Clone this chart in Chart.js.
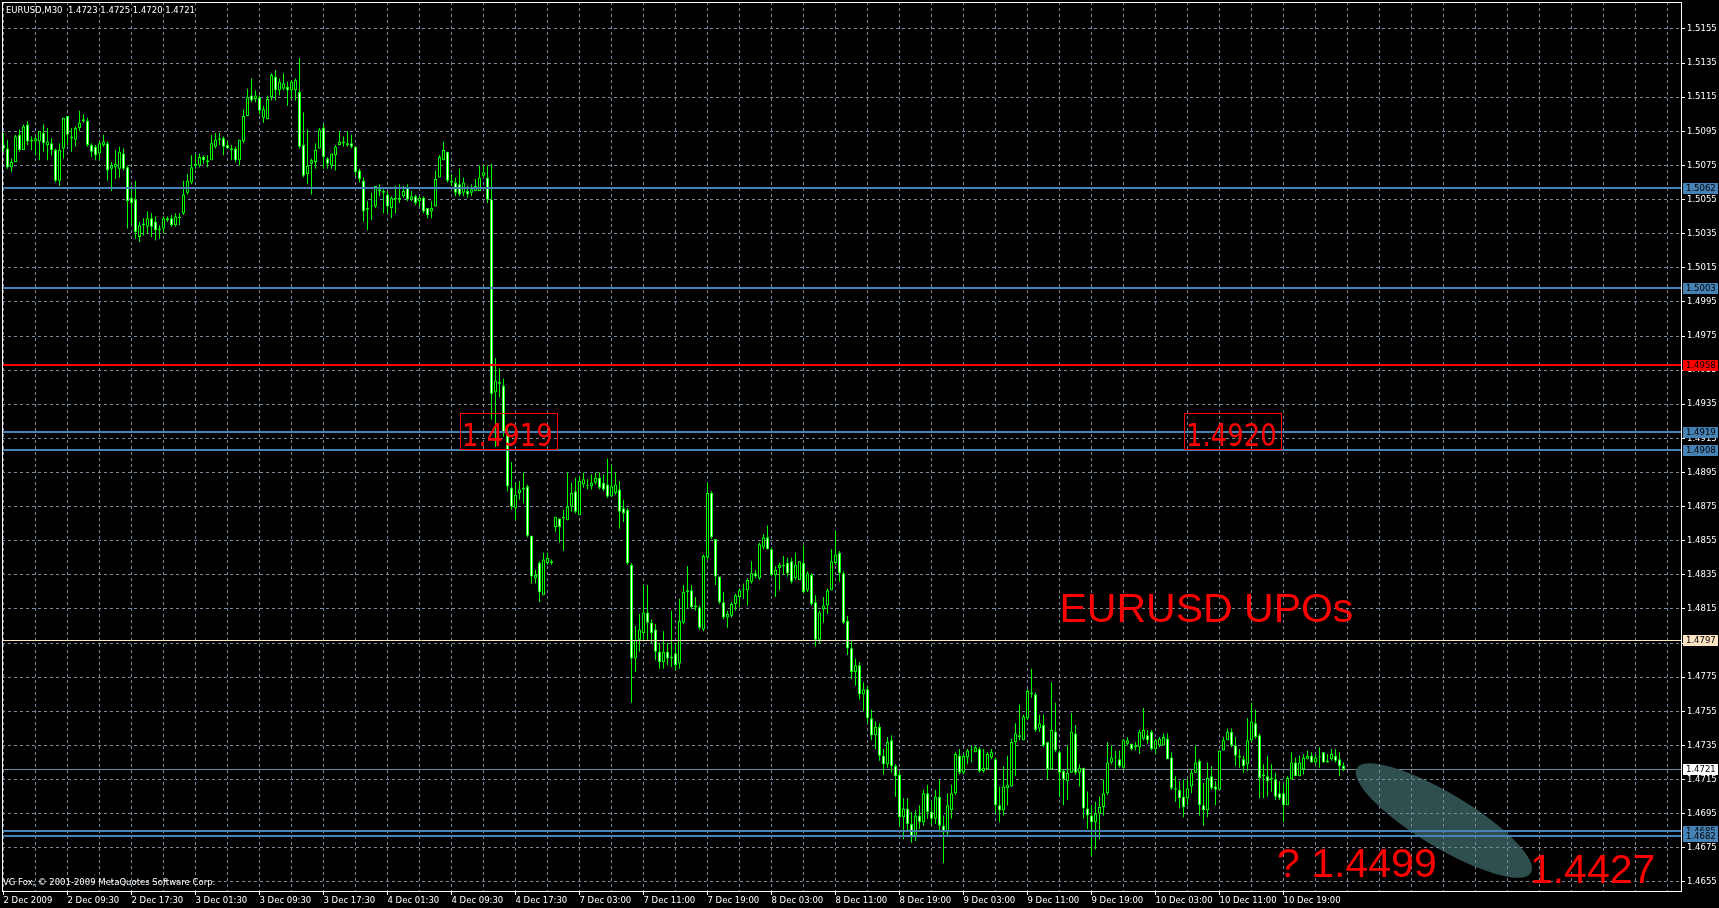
<!DOCTYPE html>
<html>
<head>
<meta charset="utf-8">
<title>EURUSD,M30</title>
<script src="https://cdn.jsdelivr.net/npm/chart.js@4.4.1/dist/chart.umd.min.js"></script>
<style>
  html, body { margin: 0; padding: 0; background: #000; overflow: hidden; }
  canvas { display: block; }
</style>
</head>
<body>
<canvas id="chart" width="1719" height="908"></canvas>
<script>
// EURUSD M30, one value per bar (bar 0 = 2 Dec 2009 01:30)
var opens = [
  1.5087,1.5085,1.5074,1.5077,1.5093,1.5084,1.5099,1.5089,1.5089,1.5089,
  1.5094,1.5087,1.5088,1.5084,1.5066,1.5085,1.5104,1.5092,1.5090,1.5097,
  1.5101,1.5101,1.5087,1.5086,1.5082,1.5087,1.5088,1.5073,1.5074,1.5073,
  1.5082,1.5074,1.5056,1.5055,1.5033,1.5040,1.5039,1.5044,1.5042,1.5037,
  1.5038,1.5044,1.5044,1.5040,1.5045,1.5047,1.5059,1.5065,1.5075,1.5075,
  1.5080,1.5077,1.5078,1.5086,1.5091,1.5091,1.5087,1.5085,1.5085,1.5078,
  1.5089,1.5104,1.5116,1.5114,1.5115,1.5103,1.5102,1.5115,1.5127,1.5119,
  1.5120,1.5121,1.5119,1.5119,1.5118,1.5087,1.5070,1.5076,1.5077,1.5085,
  1.5097,1.5079,1.5075,1.5081,1.5087,1.5088,1.5088,1.5088,1.5086,1.5072,
  1.5066,1.5049,1.5051,1.5051,1.5061,1.5059,1.5058,1.5050,1.5056,1.5055,
  1.5057,1.5062,1.5055,1.5057,1.5054,1.5056,1.5050,1.5048,1.5051,1.5068,
  1.5078,1.5083,1.5066,1.5065,1.5064,1.5059,1.5060,1.5059,1.5060,1.5060,
  1.5069,1.5068,1.5055,1.4942,1.4948,1.4946,1.4918,1.4886,1.4874,1.4883,
  1.4885,1.4887,1.4858,1.4833,1.4842,1.4823,1.4842,1.4843,1.4863,1.4868,
  1.4868,1.4867,1.4875,1.4884,1.4870,1.4888,1.4887,1.4887,1.4889,1.4892,
  1.4889,1.4888,1.4881,1.4883,1.4885,1.4874,1.4873,1.4841,1.4786,1.4797,
  1.4801,1.4813,1.4807,1.4803,1.4790,1.4784,1.4790,1.4786,1.4789,1.4783,
  1.4807,1.4825,1.4826,1.4816,1.4816,1.4803,1.4845,1.4883,1.4856,1.4834,
  1.4819,1.4810,1.4811,1.4818,1.4822,1.4826,1.4826,1.4831,1.4836,1.4833,
  1.4851,1.4857,1.4850,1.4835,1.4839,1.4841,1.4842,1.4843,1.4833,1.4832,
  1.4842,1.4826,1.4835,1.4819,1.4797,1.4815,1.4817,1.4826,1.4842,1.4848,
  1.4836,1.4808,1.4792,1.4778,1.4782,1.4765,1.4768,1.4751,1.4741,1.4746,
  1.4729,1.4724,1.4738,1.4723,1.4718,1.4693,1.4698,1.4689,1.4681,1.4694,
  1.4690,1.4707,1.4696,1.4692,1.4705,1.4688,1.4684,1.4697,1.4707,1.4729,
  1.4719,1.4728,1.4732,1.4731,1.4733,1.4720,1.4721,1.4728,1.4727,1.4700,
  1.4697,1.4710,1.4711,1.4737,1.4741,1.4738,1.4751,1.4766,1.4765,1.4745,
  1.4747,1.4737,1.4721,1.4743,1.4731,1.4720,1.4714,1.4719,1.4742,1.4719,
  1.4722,1.4698,1.4694,1.4690,1.4695,1.4699,1.4707,1.4725,1.4728,1.4727,
  1.4722,1.4736,1.4736,1.4735,1.4734,1.4739,1.4741,1.4743,1.4733,1.4735,
  1.4735,1.4739,1.4728,1.4710,1.4709,1.4705,1.4704,1.4711,1.4719,1.4726,
  1.4700,1.4697,1.4717,1.4711,1.4709,1.4732,1.4738,1.4743,1.4735,1.4729,
  1.4727,1.4724,1.4738,1.4748,1.4741,1.4717,1.4717,1.4715,1.4715,1.4707,
  1.4707,1.4700,1.4715,1.4725,1.4717,1.4721,1.4727,1.4729,1.4725,1.4728,
  1.4731,1.4725,1.4727,1.4729,1.4727,1.4723
]
var highs = [
  1.5094,1.5090,1.5079,1.5093,1.5096,1.5099,1.5101,1.5092,1.5092,1.5095,
  1.5099,1.5097,1.5091,1.5085,1.5088,1.5103,1.5104,1.5097,1.5098,1.5107,
  1.5105,1.5103,1.5088,1.5087,1.5089,1.5093,1.5089,1.5077,1.5084,1.5086,
  1.5085,1.5075,1.5063,1.5066,1.5042,1.5044,1.5048,1.5047,1.5045,1.5040,
  1.5045,1.5045,1.5046,1.5047,1.5047,1.5066,1.5070,1.5081,1.5082,1.5082,
  1.5081,1.5081,1.5093,1.5094,1.5094,1.5092,1.5089,1.5087,1.5086,1.5090,
  1.5108,1.5120,1.5126,1.5119,1.5116,1.5110,1.5116,1.5129,1.5131,1.5126,
  1.5129,1.5124,1.5125,1.5126,1.5138,1.5106,1.5096,1.5079,1.5088,1.5097,
  1.5099,1.5080,1.5082,1.5087,1.5095,1.5092,1.5095,1.5093,1.5086,1.5073,
  1.5068,1.5054,1.5059,1.5063,1.5064,1.5061,1.5060,1.5057,1.5063,1.5064,
  1.5063,1.5064,1.5060,1.5058,1.5057,1.5057,1.5050,1.5054,1.5072,1.5081,
  1.5089,1.5083,1.5070,1.5068,1.5073,1.5068,1.5063,1.5064,1.5067,1.5075,
  1.5075,1.5075,1.5076,1.4962,1.4956,1.4950,1.4921,1.4901,1.4889,1.4890,
  1.4895,1.4888,1.4858,1.4838,1.4843,1.4848,1.4848,1.4844,1.4869,1.4868,
  1.4873,1.4895,1.4889,1.4892,1.4893,1.4895,1.4891,1.4894,1.4895,1.4895,
  1.4894,1.4903,1.4899,1.4895,1.4890,1.4879,1.4874,1.4842,1.4805,1.4812,
  1.4829,1.4829,1.4809,1.4806,1.4795,1.4802,1.4795,1.4814,1.4795,1.4821,
  1.4829,1.4840,1.4829,1.4822,1.4817,1.4847,1.4889,1.4884,1.4856,1.4834,
  1.4825,1.4814,1.4819,1.4824,1.4827,1.4830,1.4833,1.4843,1.4838,1.4854,
  1.4859,1.4864,1.4851,1.4840,1.4842,1.4846,1.4845,1.4845,1.4848,1.4843,
  1.4852,1.4837,1.4836,1.4823,1.4814,1.4822,1.4827,1.4850,1.4861,1.4849,
  1.4837,1.4811,1.4797,1.4786,1.4784,1.4772,1.4770,1.4756,1.4749,1.4748,
  1.4733,1.4740,1.4741,1.4724,1.4720,1.4704,1.4704,1.4696,1.4697,1.4700,
  1.4709,1.4712,1.4702,1.4709,1.4715,1.4694,1.4707,1.4712,1.4731,1.4733,
  1.4730,1.4733,1.4735,1.4735,1.4734,1.4733,1.4731,1.4733,1.4728,1.4711,
  1.4723,1.4729,1.4739,1.4748,1.4759,1.4753,1.4768,1.4780,1.4766,1.4753,
  1.4753,1.4737,1.4772,1.4760,1.4732,1.4721,1.4735,1.4754,1.4747,1.4724,
  1.4722,1.4708,1.4700,1.4702,1.4705,1.4715,1.4737,1.4735,1.4732,1.4732,
  1.4739,1.4740,1.4736,1.4737,1.4744,1.4757,1.4744,1.4744,1.4739,1.4740,
  1.4742,1.4742,1.4731,1.4717,1.4714,1.4715,1.4715,1.4721,1.4735,1.4727,
  1.4713,1.4725,1.4723,1.4714,1.4732,1.4740,1.4745,1.4745,1.4740,1.4733,
  1.4729,1.4751,1.4760,1.4756,1.4742,1.4724,1.4729,1.4724,1.4719,1.4714,
  1.4712,1.4717,1.4731,1.4728,1.4729,1.4730,1.4732,1.4731,1.4730,1.4734,
  1.4731,1.4730,1.4733,1.4733,1.4731,1.4725
]
var lows = [
  1.5083,1.5073,1.5071,1.5077,1.5083,1.5084,1.5087,1.5084,1.5081,1.5078,
  1.5083,1.5078,1.5081,1.5065,1.5063,1.5079,1.5087,1.5083,1.5086,1.5095,
  1.5100,1.5086,1.5080,1.5078,1.5078,1.5086,1.5066,1.5060,1.5067,1.5068,
  1.5072,1.5038,1.5040,1.5032,1.5030,1.5034,1.5035,1.5033,1.5031,1.5032,
  1.5035,1.5042,1.5039,1.5039,1.5040,1.5046,1.5058,1.5064,1.5073,1.5074,
  1.5076,1.5074,1.5078,1.5085,1.5087,1.5081,1.5085,1.5078,1.5077,1.5075,
  1.5088,1.5104,1.5112,1.5112,1.5105,1.5100,1.5102,1.5113,1.5113,1.5116,
  1.5119,1.5110,1.5114,1.5113,1.5085,1.5068,1.5064,1.5058,1.5073,1.5085,
  1.5073,1.5073,1.5073,1.5072,1.5087,1.5086,1.5086,1.5085,1.5069,1.5065,
  1.5042,1.5037,1.5043,1.5050,1.5057,1.5047,1.5047,1.5044,1.5047,1.5053,
  1.5056,1.5054,1.5054,1.5052,1.5051,1.5047,1.5044,1.5044,1.5051,1.5068,
  1.5078,1.5065,1.5063,1.5057,1.5057,1.5057,1.5056,1.5057,1.5060,1.5060,
  1.5068,1.5053,1.4926,1.4910,1.4939,1.4916,1.4884,1.4873,1.4867,1.4879,
  1.4877,1.4857,1.4830,1.4830,1.4819,1.4823,1.4841,1.4841,1.4860,1.4854,
  1.4849,1.4867,1.4872,1.4871,1.4870,1.4886,1.4885,1.4885,1.4888,1.4885,
  1.4884,1.4880,1.4881,1.4882,1.4862,1.4866,1.4841,1.4760,1.4778,1.4790,
  1.4796,1.4797,1.4795,1.4785,1.4780,1.4780,1.4782,1.4781,1.4779,1.4780,
  1.4806,1.4815,1.4815,1.4814,1.4803,1.4802,1.4844,1.4856,1.4829,1.4818,
  1.4809,1.4804,1.4810,1.4814,1.4816,1.4821,1.4817,1.4830,1.4833,1.4832,
  1.4850,1.4850,1.4834,1.4822,1.4826,1.4835,1.4834,1.4830,1.4832,1.4832,
  1.4824,1.4825,1.4817,1.4793,1.4795,1.4807,1.4812,1.4826,1.4841,1.4831,
  1.4806,1.4788,1.4774,1.4770,1.4762,1.4755,1.4748,1.4738,1.4733,1.4726,
  1.4718,1.4722,1.4719,1.4705,1.4688,1.4680,1.4685,1.4678,1.4679,1.4686,
  1.4688,1.4692,1.4688,1.4689,1.4684,1.4666,1.4682,1.4692,1.4706,1.4718,
  1.4718,1.4724,1.4725,1.4731,1.4719,1.4719,1.4721,1.4727,1.4695,1.4690,
  1.4694,1.4700,1.4711,1.4717,1.4738,1.4738,1.4750,1.4763,1.4743,1.4743,
  1.4734,1.4715,1.4721,1.4731,1.4705,1.4700,1.4703,1.4719,1.4718,1.4711,
  1.4692,1.4686,1.4670,1.4674,1.4680,1.4694,1.4706,1.4724,1.4721,1.4722,
  1.4721,1.4735,1.4732,1.4732,1.4730,1.4738,1.4736,1.4732,1.4730,1.4734,
  1.4735,1.4727,1.4709,1.4702,1.4698,1.4693,1.4700,1.4707,1.4719,1.4694,
  1.4688,1.4693,1.4709,1.4700,1.4709,1.4732,1.4738,1.4734,1.4723,1.4722,
  1.4719,1.4720,1.4737,1.4739,1.4704,1.4704,1.4705,1.4708,1.4703,1.4703,
  1.4690,1.4700,1.4715,1.4717,1.4717,1.4718,1.4727,1.4725,1.4724,1.4722,
  1.4725,1.4725,1.4726,1.4725,1.4717,1.4720
]
var closes = [
  1.5085,1.5074,1.5077,1.5092,1.5084,1.5098,1.5089,1.5090,1.5091,1.5095,
  1.5088,1.5089,1.5084,1.5066,1.5084,1.5103,1.5093,1.5091,1.5097,1.5100,
  1.5102,1.5087,1.5083,1.5081,1.5088,1.5089,1.5072,1.5075,1.5076,1.5083,
  1.5073,1.5054,1.5053,1.5036,1.5040,1.5041,1.5044,1.5039,1.5037,1.5038,
  1.5044,1.5043,1.5040,1.5045,1.5044,1.5058,1.5066,1.5074,1.5076,1.5080,
  1.5078,1.5078,1.5088,1.5090,1.5090,1.5086,1.5085,1.5084,1.5078,1.5090,
  1.5104,1.5115,1.5113,1.5116,1.5107,1.5108,1.5114,1.5128,1.5119,1.5124,
  1.5123,1.5119,1.5124,1.5125,1.5086,1.5069,1.5075,1.5078,1.5084,1.5096,
  1.5080,1.5076,1.5082,1.5086,1.5089,1.5089,1.5087,1.5086,1.5071,1.5067,
  1.5048,1.5050,1.5051,1.5063,1.5060,1.5060,1.5051,1.5056,1.5055,1.5056,
  1.5060,1.5055,1.5057,1.5053,1.5056,1.5048,1.5046,1.5050,1.5067,1.5080,
  1.5084,1.5066,1.5065,1.5059,1.5058,1.5065,1.5058,1.5061,1.5063,1.5068,
  1.5071,1.5055,1.4941,1.4949,1.4947,1.4918,1.4887,1.4875,1.4882,1.4885,
  1.4886,1.4858,1.4834,1.4835,1.4825,1.4844,1.4845,1.4842,1.4869,1.4863,
  1.4869,1.4875,1.4883,1.4872,1.4890,1.4891,1.4887,1.4889,1.4892,1.4886,
  1.4885,1.4881,1.4887,1.4888,1.4872,1.4871,1.4842,1.4786,1.4797,1.4803,
  1.4813,1.4807,1.4801,1.4790,1.4784,1.4790,1.4786,1.4787,1.4782,1.4808,
  1.4825,1.4826,1.4816,1.4817,1.4804,1.4846,1.4883,1.4857,1.4834,1.4819,
  1.4810,1.4812,1.4818,1.4823,1.4826,1.4826,1.4832,1.4836,1.4834,1.4853,
  1.4857,1.4850,1.4835,1.4838,1.4841,1.4840,1.4836,1.4831,1.4841,1.4843,
  1.4825,1.4836,1.4818,1.4797,1.4813,1.4817,1.4826,1.4843,1.4847,1.4836,
  1.4807,1.4792,1.4778,1.4782,1.4765,1.4768,1.4751,1.4741,1.4746,1.4729,
  1.4724,1.4737,1.4723,1.4717,1.4693,1.4698,1.4689,1.4681,1.4694,1.4690,
  1.4707,1.4696,1.4692,1.4705,1.4688,1.4684,1.4700,1.4707,1.4730,1.4719,
  1.4729,1.4732,1.4732,1.4734,1.4720,1.4722,1.4730,1.4731,1.4700,1.4697,
  1.4711,1.4712,1.4737,1.4742,1.4740,1.4752,1.4767,1.4765,1.4744,1.4748,
  1.4735,1.4721,1.4744,1.4732,1.4719,1.4715,1.4719,1.4743,1.4719,1.4722,
  1.4698,1.4694,1.4690,1.4695,1.4699,1.4707,1.4725,1.4728,1.4728,1.4723,
  1.4738,1.4738,1.4733,1.4734,1.4743,1.4744,1.4738,1.4733,1.4738,1.4739,
  1.4740,1.4727,1.4710,1.4709,1.4704,1.4699,1.4710,1.4719,1.4725,1.4700,
  1.4697,1.4716,1.4710,1.4709,1.4732,1.4738,1.4743,1.4735,1.4729,1.4728,
  1.4723,1.4738,1.4749,1.4740,1.4716,1.4718,1.4714,1.4716,1.4705,1.4704,
  1.4700,1.4716,1.4725,1.4717,1.4725,1.4728,1.4729,1.4725,1.4728,1.4728,
  1.4725,1.4726,1.4730,1.4726,1.4723,1.4721
]

// time axis labels, one every 16 bars (8 hours)
var timeLabels = ['2 Dec 2009','2 Dec 09:30','2 Dec 17:30','3 Dec 01:30','3 Dec 09:30','3 Dec 17:30',
  '4 Dec 01:30','4 Dec 09:30','4 Dec 17:30','7 Dec 03:00','7 Dec 11:00','7 Dec 19:00','8 Dec 03:00',
  '8 Dec 11:00','8 Dec 19:00','9 Dec 03:00','9 Dec 11:00','9 Dec 19:00','10 Dec 03:00','10 Dec 11:00',
  '10 Dec 19:00']
var priceTicks = [1.4655,1.4675,1.4695,1.4715,1.4735,1.4755,1.4775,1.4795,1.4815,1.4835,1.4855,1.4875,
  1.4895,1.4915,1.4935,1.4955,1.4975,1.4995,1.5015,1.5035,1.5055,1.5075,1.5095,1.5115,1.5135,1.5155]

// horizontal lines drawn on the chart
var levels = [1.5062, 1.5003, 1.4958, 1.4919, 1.4908, 1.4797, 1.4685, 1.4682]
var levelColors = ['#4682b4','#4682b4','#ff0000','#4682b4','#4682b4','#ffe4c4','#4682b4','#4682b4']
var levelWidths = [2, 2, 2, 2, 2, 1, 2, 2]
var bidPrice = 1.4721

// boxed price notes and free text (bar index, price)
var boxTexts = ['1.4919', '1.4920']
var boxAnchors = [[114.1, 1.4930], [295.1, 1.4930]]
var bigTexts = ['EURUSD UPOs', '? 1.4499', '1.4427']
var bigAnchors = [[264.0, 1.48076], [318.4, 1.4658], [381.6, 1.46546]]
var ellipseAt = [360.1, 1.4691]

var GREEN = '#00ff00'
var GRID = '#778899'
var SMALL = '8.5px "DejaVu Sans"'

var idx = opens.map(function (o, i) { return i })
var bodyColors = idx.map(function (i) { return closes[i] >= opens[i] ? '#000000' : '#ffffff' })

/** fundo, linha bid e elipse por baixo da grelha */
var underlay = {
  id: 'underlay',
  beforeDraw: function (chart) {
    var ctx = chart.ctx, a = chart.chartArea, x = chart.scales.x, y = chart.scales.y
    ctx.save()
    ctx.fillStyle = '#000'
    ctx.fillRect(0, 0, chart.width, chart.height)
    var by = Math.round(y.getPixelForValue(bidPrice)) + 0.5
    ctx.strokeStyle = GRID
    ctx.lineWidth = 1
    ctx.beginPath(); ctx.moveTo(a.left, by); ctx.lineTo(a.right, by); ctx.stroke()
    ctx.fillStyle = '#2f4f4f'
    ctx.beginPath()
    ctx.ellipse(x.getPixelForValue(ellipseAt[0]), y.getPixelForValue(ellipseAt[1]), 101.6, 27, 31 * Math.PI / 180, 0, 2 * Math.PI)
    ctx.fill()
    ctx.restore()
  }
}

/** linhas horizontais, textos, moldura e etiquetas do eixo de precos */
var overlay = {
  id: 'overlay',
  afterDatasetsDraw: function (chart) {
    var ctx = chart.ctx, a = chart.chartArea, x = chart.scales.x, y = chart.scales.y
    ctx.save()
    // price levels
    levels.forEach(function (p, k) {
      var w = levelWidths[k]
      var py = Math.round(y.getPixelForValue(p)) + (w % 2 ? 0.5 : 0)
      ctx.strokeStyle = levelColors[k]
      ctx.lineWidth = w
      ctx.beginPath(); ctx.moveTo(a.left, py); ctx.lineTo(a.right, py); ctx.stroke()
    })
    // boxed notes
    ctx.strokeStyle = '#ff0000'
    ctx.fillStyle = '#ff0000'
    ctx.lineWidth = 1
    ctx.font = '32px "DejaVu Sans"'
    ctx.textBaseline = 'alphabetic'
    boxTexts.forEach(function (t, k) {
      var bx = Math.round(x.getPixelForValue(boxAnchors[k][0]))
      var by = Math.round(y.getPixelForValue(boxAnchors[k][1]))
      ctx.strokeRect(bx + 0.5, by + 0.5, 97, 36)
      ctx.save()
      ctx.translate(bx + 2, by + 33)
      ctx.scale(0.81, 1)
      ctx.fillText(t, 0, 0)
      ctx.restore()
    })
    // big red texts
    ctx.font = '41px "Liberation Sans"'
    bigTexts.forEach(function (t, k) {
      ctx.fillText(t, x.getPixelForValue(bigAnchors[k][0]), y.getPixelForValue(bigAnchors[k][1]))
    })
    // frame
    ctx.strokeStyle = '#ffffff'
    ctx.lineWidth = 1
    ctx.strokeRect(a.left + 0.5, a.top + 0.5, a.right - a.left, a.bottom - a.top)
    // header and footer
    ctx.fillStyle = '#ffffff'
    ctx.font = SMALL
    ctx.textBaseline = 'middle'
    var last = opens.length - 1
    var ohlc = [opens[last], highs[last], lows[last], closes[last]].map(function (v) { return v.toFixed(4) })
    ctx.fillText('EURUSD,M30  ' + ohlc.join(' '), 6, 11)
    ctx.fillText('VG Fox, \u00a9 2001-2009 MetaQuotes Software Corp.', 3, 883)
    // tags on the price axis
    var tags = levels.map(function (p, k) { return [p, levelColors[k]] })
    tags.push([bidPrice, '#ffffff'])
    tags.forEach(function (t) {
      var py = Math.round(y.getPixelForValue(t[0]))
      ctx.fillStyle = t[1]
      ctx.fillRect(a.right + 2, py - 5, 35, 11)
      ctx.fillStyle = '#000000'
      ctx.fillText(t[0].toFixed(4), a.right + 5, py + 0.5)
    })
    ctx.restore()
  }
}

Chart.defaults.font.family = '"DejaVu Sans"'
Chart.defaults.font.size = 8.5

var chart = new Chart('chart', {
  type: 'bar',
  data: {
    datasets: [
      {
        label: 'wick',
        data: idx.map(function (i) { return { x: i, y: [lows[i], highs[i]] } }),
        backgroundColor: GREEN,
        borderWidth: 0,
        barThickness: 1,
        maxBarThickness: 1,
        minBarLength: 1,
        grouped: false,
        inflateAmount: 0,
        order: 2
      },
      {
        label: 'body',
        data: idx.map(function (i) { return { x: i, y: [opens[i], closes[i]] } }),
        backgroundColor: bodyColors,
        borderColor: GREEN,
        borderWidth: 1,
        borderSkipped: false,
        barThickness: 3,
        maxBarThickness: 3,
        minBarLength: 1,
        grouped: false,
        inflateAmount: 0,
        order: 1
      }
    ]
  },
  options: {
    responsive: false,
    animation: false,
    devicePixelRatio: 1,
    events: [],
    layout: { padding: { left: 2, top: 2, right: 0, bottom: 0 } },
    plugins: { legend: { display: false }, tooltip: { enabled: false } },
    scales: {
      x: {
        type: 'linear',
        min: -0.375,
        max: 419.375,
        offset: false,
        afterBuildTicks: function (s) {
          var t = []
          for (var v = 0; v <= 416; v += 8) t.push({ value: v })
          s.ticks = t
        },
        afterFit: function (s) { s.height = 17; s.paddingLeft = 0; s.paddingRight = 0 },
        grid: {
          offset: false,
          color: GRID,
          lineWidth: 1,
          drawTicks: true,
          tickLength: 4,
          tickBorderDash: [],
          tickColor: function (c) {
            return c.tick && c.tick.value % 16 === 0 && c.tick.value <= 320 ? '#ffffff' : 'rgba(0,0,0,0)'
          }
        },
        border: { display: false, dash: [3, 3] },
        ticks: {
          color: '#ffffff',
          autoSkip: false,
          maxRotation: 0,
          minRotation: 0,
          align: 'start',
          padding: 1,
          callback: function (v) { return v % 16 === 0 && timeLabels[v / 16] ? timeLabels[v / 16] : '' }
        }
      },
      y: {
        type: 'linear',
        position: 'right',
        min: 1.46497,
        max: 1.51708,
        afterBuildTicks: function (s) {
          s.ticks = priceTicks.map(function (v) { return { value: v } })
        },
        afterFit: function (s) { s.width = 38; s.paddingTop = 0; s.paddingBottom = 0 },
        grid: {
          color: GRID,
          lineWidth: 1,
          drawTicks: true,
          tickLength: 4,
          tickBorderDash: [],
          tickColor: '#ffffff'
        },
        border: { display: false, dash: [3, 3] },
        ticks: {
          color: '#ffffff',
          padding: 2,
          autoSkip: false,
          callback: function (v) { return v.toFixed(4) }
        }
      }
    }
  },
  plugins: [underlay, overlay]
})
</script>
</body>
</html>
